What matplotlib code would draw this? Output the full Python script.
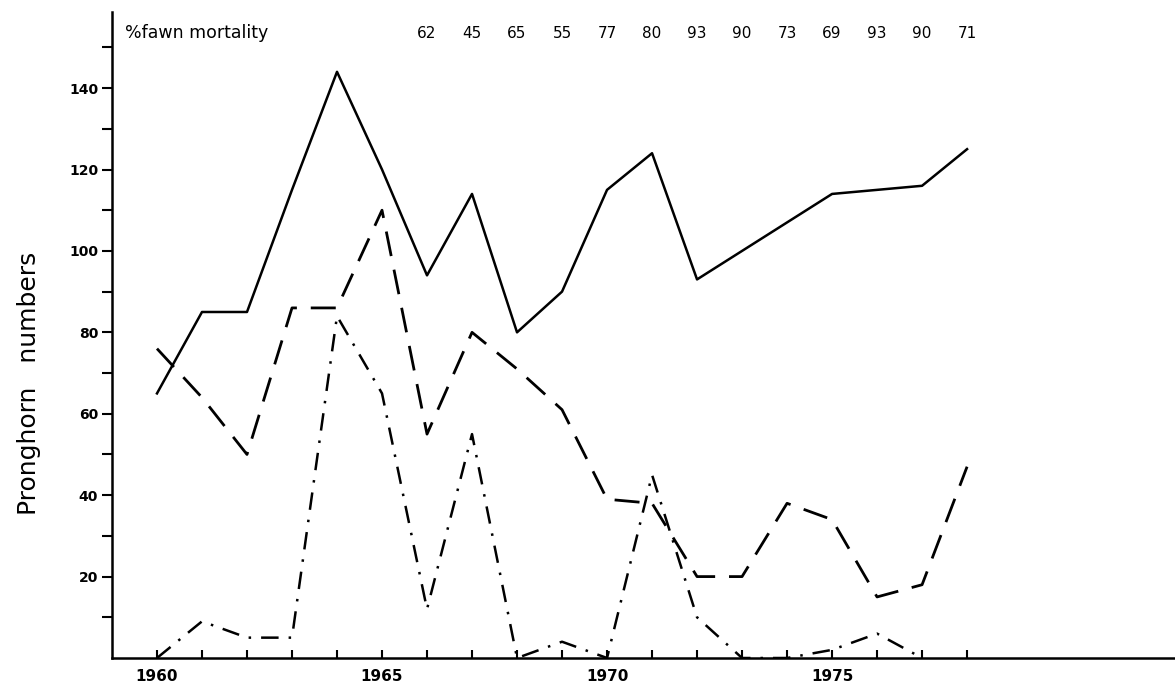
import matplotlib
matplotlib.use('Agg')
import matplotlib.pyplot as plt
from matplotlib.ticker import FixedLocator

# Data
years = list(range(1960, 1979))
total = [65, 85, 85, 115, 144, 120, 94, 114, 80, 90, 115, 124, 93, 100, 107, 114, 115, 116, 125]
dashed = [76, 64, 50, 86, 86, 110, 55, 80, 71, 61, 39, 38, 20, 20, 38, 34, 15, 18, 47]
dashdot_years = list(range(1960, 1978))
dashdot = [0, 9, 5, 5, 84, 65, 12, 55, 0, 4, 0, 45, 10, 0, 0, 2, 6, 0]

mort_years = list(range(1966, 1979))
mort_labels = ["62", "45", "65", "55", "77", "80", "93", "90", "73", "69", "93", "90", "71"]
xtick_labels = {1960: "1960", 1965: "1965", 1970: "1970", 1975: "1975"}


def main():
    fig = plt.figure(figsize=(11.75, 6.88), dpi=100)
    ax = fig.add_axes([0.0953, 0.0436, 0.9047, 0.939])

    ax.plot(years, total, color="black", lw=1.8)
    ax.plot(years, dashed, color="black", lw=2.0, dashes=(9, 5))
    ax.plot(dashdot_years, dashdot, color="black", lw=1.8, dashes=(7, 4, 1, 4))

    ax.set_xlim(1959, 1982.62)
    ax.set_ylim(0, 158.7)

    # axes look
    for side in ["top", "right"]:
        ax.spines[side].set_visible(False)
    ax.spines["left"].set_linewidth(1.8)
    ax.spines["bottom"].set_linewidth(1.8)

    ax.xaxis.set_major_locator(FixedLocator(years))
    ax.set_xticklabels([xtick_labels.get(y, "") for y in years],
                       fontsize=11, fontweight="bold")
    ax.tick_params(axis="x", direction="in", length=6, width=1.5, pad=8)

    ax.yaxis.set_major_locator(FixedLocator(range(20, 141, 20)))
    ax.yaxis.set_minor_locator(FixedLocator(range(10, 151, 20)))
    ax.set_yticklabels([str(v) for v in range(20, 141, 20)],
                       fontsize=10, fontweight="bold")
    ax.tick_params(axis="y", which="major", direction="out", length=7, width=1.5, pad=3)
    ax.tick_params(axis="y", which="minor", direction="out", length=7, width=1.5)

    ax.set_ylabel("Pronghorn   numbers", fontsize=18, fontweight="normal")
    ax.yaxis.set_label_coords(-0.067, 0.425)

    # fawn mortality row
    ax.text(1959.3, 153.5, "%fawn mortality", fontsize=12.5, ha="left", va="center")
    for yr, lab in zip(mort_years, mort_labels):
        ax.text(yr, 153.5, lab, fontsize=11, ha="center", va="center")

    fig.savefig("out.png", dpi=100)
    plt.close(fig)


if __name__ == "__main__":
    main()
